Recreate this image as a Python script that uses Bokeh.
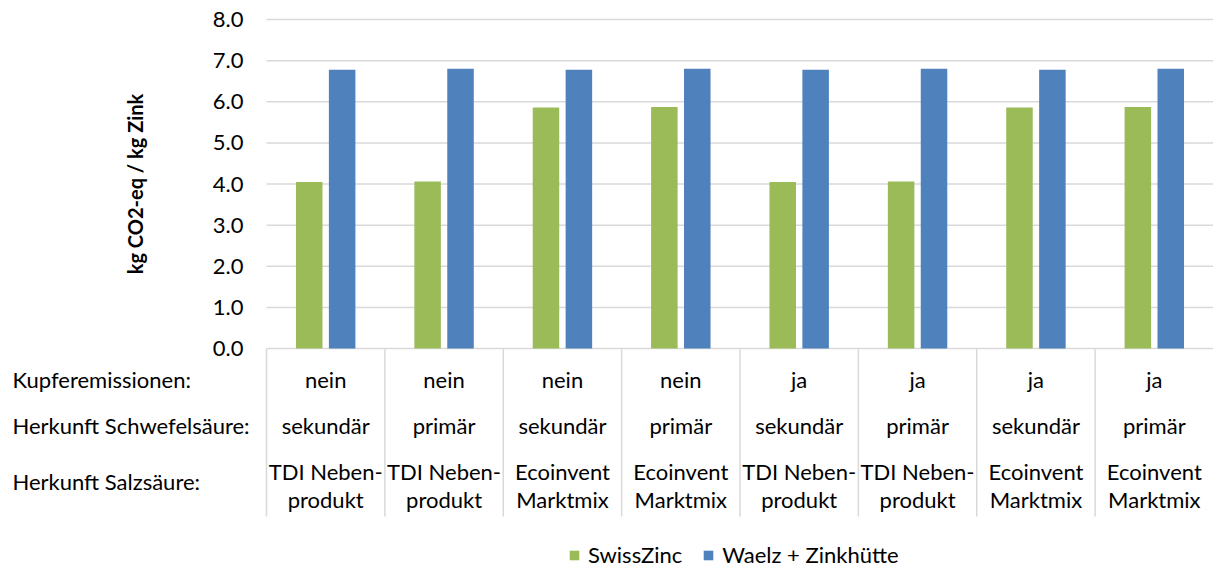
import math
from bokeh.plotting import figure
from bokeh.models import Range1d, Legend, LegendItem
from bokeh.core.properties import value
from bokeh.embed import file_html
from bokeh.resources import INLINE

# ---- data ----
kupfer = ["nein", "nein", "nein", "nein", "ja", "ja", "ja", "ja"]
schwefel = ["sekundär", "primär", "sekundär", "primär", "sekundär", "primär", "sekundär", "primär"]
salz_line1 = ["TDI Neben-", "TDI Neben-", "Ecoinvent", "Ecoinvent", "TDI Neben-", "TDI Neben-", "Ecoinvent", "Ecoinvent"]
salz_line2 = ["produkt", "produkt", "Marktmix", "Marktmix", "produkt", "produkt", "Marktmix", "Marktmix"]
swisszinc = [4.05, 4.06, 5.86, 5.87, 4.05, 4.06, 5.86, 5.87]
waelz = [6.78, 6.80, 6.78, 6.80, 6.78, 6.80, 6.78, 6.80]
y_ticks = [0, 1, 2, 3, 4, 5, 6, 7, 8]
y_tick_labels = ["0.0", "1.0", "2.0", "3.0", "4.0", "5.0", "6.0", "7.0", "8.0"]
row_labels = ["Kupferemissionen:", "Herkunft Schwefelsäure:", "Herkunft Salzsäure:"]
series_names = ["SwissZinc", "Waelz + Zinkhütte"]
y_title = "kg CO2-eq / kg Zink"

# ---- style / layout constants ----
FONT = "Lato"
FS = "22px"
TXT = "#000000"
GREEN = "#9BBB59"
BLUE = "#4F81BD"
GRID = "#D9D9D9"

W, H = 1213, 572
plot_left, plot_top, zero_px = 266, 19, 348
ppu = (zero_px - plot_top) / 8.0
n = len(kupfer)
cat_px = (W - plot_left) / n


def ydat(px):
    return -(px - zero_px) / ppu


def xdat(px):
    return 0.5 + (px - plot_left) / cat_px


xs = [i + 1 for i in range(n)]
bounds = [0.5 + k for k in range(n)]

p = figure(width=W, height=H, x_range=Range1d(xdat(0), xdat(W)),
           y_range=Range1d(ydat(H), ydat(0)),
           output_backend="svg", toolbar_location=None,
           x_axis_location=None, y_axis_location=None,
           min_border=0, title=None)
p.outline_line_color = None
p.xgrid.visible = False
p.ygrid.visible = False

# value gridlines (y scale) across the plot area
p.segment(x0=[0.5] * len(y_ticks), y0=y_ticks, x1=[n + 0.5] * len(y_ticks), y1=y_ticks,
          line_color=GRID, line_width=1.5)

# y tick labels
p.text(x=[xdat(243)] * len(y_ticks), y=y_ticks, text=y_tick_labels,
       text_align="right", text_baseline="middle", text_font=value(FONT),
       text_font_size=FS, text_color=TXT)

# y axis title
p.text(x=[xdat(134)], y=[(y_ticks[0] + y_ticks[-1]) / 2], text=[y_title], angle=math.pi / 2,
       text_align="center", text_baseline="middle", text_font=value(FONT),
       text_font_size="20px", text_font_style="bold", text_color=TXT)

# bars
off = 0.139
bw = 0.224
r1 = p.vbar(x=[x - off for x in xs], top=swisszinc, width=bw, bottom=0,
            fill_color=GREEN, line_color=None)
r2 = p.vbar(x=[x + off for x in xs], top=waelz, width=bw, bottom=0,
            fill_color=BLUE, line_color=None)

# category table separators
p.segment(x0=bounds, y0=[0] * n, x1=bounds, y1=[ydat(516)] * n,
          line_color=GRID, line_width=1.5)


def row(texts, ypx):
    p.text(x=xs, y=[ydat(ypx)] * n, text=texts, text_align="center", text_baseline="middle",
           text_font=value(FONT), text_font_size=FS, text_color=TXT)


row(kupfer, 379)
row(schwefel, 425)
row(salz_line1, 471)
row(salz_line2, 499)

p.text(x=[xdat(12)] * 3, y=[ydat(v) for v in (379, 425, 481)], text=row_labels,
       text_align="left", text_baseline="middle", text_font=value(FONT),
       text_font_size=FS, text_color=TXT)

legend = Legend(items=[LegendItem(label=series_names[0], renderers=[r1]),
                       LegendItem(label=series_names[1], renderers=[r2])],
                orientation="horizontal", location=(568, 4),
                glyph_width=12, glyph_height=12, label_standoff=8, spacing=20,
                padding=0, margin=0, border_line_color=None, background_fill_alpha=0,
                label_text_font=FONT, label_text_font_size=FS, label_text_color=TXT)
p.add_layout(legend)

open("out.html", "w").write(file_html(p, INLINE))
